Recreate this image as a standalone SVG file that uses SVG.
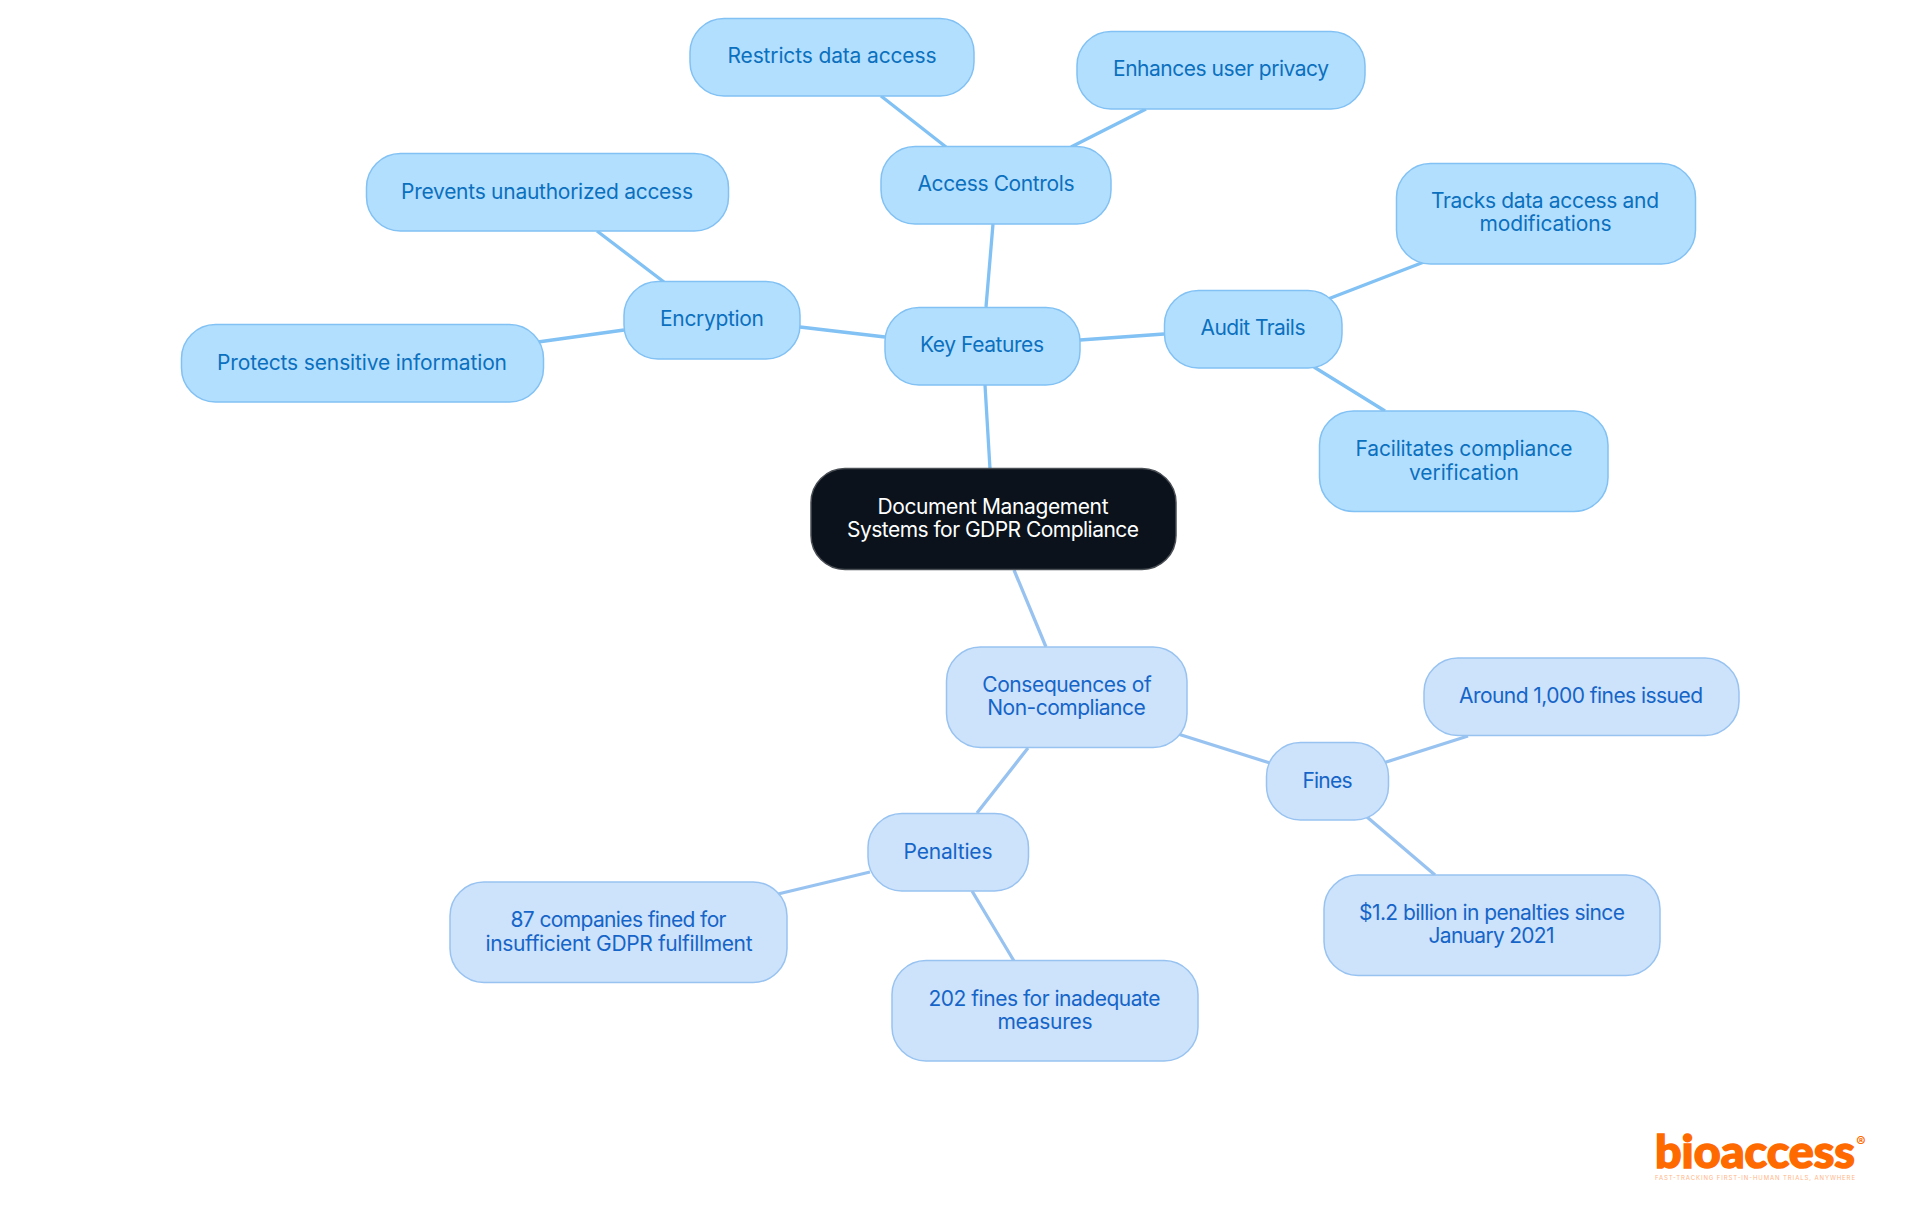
<svg xmlns="http://www.w3.org/2000/svg" width="1920" height="1215" viewBox="0 0 1920 1215">
<style>
text{font-family:"Inter","Noto Sans","Liberation Sans",sans-serif;font-size:21px;text-anchor:middle}
.a rect{fill:#b3dffe;stroke:#81c1f4;stroke-width:1.5}
.a text{fill:#0b70be}
.b rect{fill:#cde2fb;stroke:#98c3f1;stroke-width:1.5}
.b text{fill:#1565c8}
.r rect{fill:#0b121b;stroke:#4a4f55;stroke-width:1.5}
.r text{fill:#fff}
#connectors path{fill:none;stroke-width:3.3}
.ca{stroke:#81c1f4}
.cb{stroke:#98c3f1}
#logo text{fill:#ff6a00}
</style>
<rect width="1920" height="1215" fill="#fff"/>
<g id="connectors">
<path class="ca" d="M990 469L985 385M986 307L993 224M885 337L800 327M1080 340L1164 334M946 147L881 96M1071 147L1146 109M664 282L597 231M624 330L538 342M1328 299L1424 262M1314 367L1385 411"/>
<path class="cb" d="M1014 570L1046 647M1178 734L1270 763M1028 748L977 813M1383 763L1468 736M1367 817L1435 875M870 872L778 894M972 891L1014 961"/>
</g>
<g id="root" class="r"><rect x="811" y="468.500" width="365" height="101" rx="34"/><text x="993" y="514" textLength="231" lengthAdjust="spacing">Document Management</text><text x="993" y="537" textLength="292" lengthAdjust="spacing">Systems for GDPR Compliance</text></g>
<g id="key-features" class="a"><rect x="885" y="307.500" width="195" height="77.500" rx="34"/><text x="982" y="352" textLength="124" lengthAdjust="spacing">Key Features</text></g>
<g id="access-controls" class="a"><rect x="881" y="146.500" width="230" height="77.500" rx="34"/><text x="996" y="191" textLength="157" lengthAdjust="spacing">Access Controls</text></g>
<g id="restricts" class="a"><rect x="690" y="18.500" width="284" height="77.500" rx="34"/><text x="832" y="63" textLength="209" lengthAdjust="spacing">Restricts data access</text></g>
<g id="enhances" class="a"><rect x="1077" y="31.500" width="288" height="77.500" rx="34"/><text x="1221" y="76" textLength="216" lengthAdjust="spacing">Enhances user privacy</text></g>
<g id="encryption" class="a"><rect x="624" y="281.500" width="176" height="77.500" rx="34"/><text x="712" y="326" textLength="104" lengthAdjust="spacing">Encryption</text></g>
<g id="prevents" class="a"><rect x="366.500" y="153.500" width="362" height="77.500" rx="34"/><text x="547" y="199" textLength="292" lengthAdjust="spacing">Prevents unauthorized access</text></g>
<g id="protects" class="a"><rect x="181.500" y="324.500" width="362" height="77.500" rx="34"/><text x="362" y="370" textLength="290" lengthAdjust="spacing">Protects sensitive information</text></g>
<g id="audit-trails" class="a"><rect x="1164.500" y="290.500" width="177.500" height="77.500" rx="34"/><text x="1253" y="335" textLength="105" lengthAdjust="spacing">Audit Trails</text></g>
<g id="tracks" class="a"><rect x="1396.500" y="163.500" width="299" height="100.500" rx="34"/><text x="1545" y="208" textLength="228" lengthAdjust="spacing">Tracks data access and</text><text x="1545.500" y="231" textLength="132" lengthAdjust="spacing">modifications</text></g>
<g id="facilitates" class="a"><rect x="1319.500" y="411" width="288.500" height="100.500" rx="34"/><text x="1464" y="456" textLength="217" lengthAdjust="spacing">Facilitates compliance</text><text x="1464" y="480" textLength="110" lengthAdjust="spacing">verification</text></g>
<g id="consequences" class="b"><rect x="946.500" y="647" width="240.500" height="100.500" rx="34"/><text x="1067" y="692" textLength="169.500" lengthAdjust="spacing">Consequences of</text><text x="1066.500" y="715" textLength="158.500" lengthAdjust="spacing">Non-compliance</text></g>
<g id="fines" class="b"><rect x="1266.500" y="742.500" width="122" height="77.500" rx="34"/><text x="1327.500" y="788" textLength="50" lengthAdjust="spacing">Fines</text></g>
<g id="around" class="b"><rect x="1424" y="658" width="315" height="77.500" rx="34"/><text x="1581" y="703" textLength="244" lengthAdjust="spacing">Around 1,000 fines issued</text></g>
<g id="billion" class="b"><rect x="1324" y="875" width="336" height="100.500" rx="34"/><text x="1492" y="920" textLength="266" lengthAdjust="spacing">$1.2 billion in penalties since</text><text x="1491.500" y="943" textLength="126" lengthAdjust="spacing">January 2021</text></g>
<g id="penalties" class="b"><rect x="868" y="813.500" width="160.500" height="77.500" rx="34"/><text x="948" y="859" textLength="89" lengthAdjust="spacing">Penalties</text></g>
<g id="companies" class="b"><rect x="450" y="882" width="337" height="100.500" rx="34"/><text x="618.500" y="927" textLength="216" lengthAdjust="spacing">87 companies fined for</text><text x="619" y="951" textLength="267" lengthAdjust="spacing">insufficient GDPR fulfillment</text></g>
<g id="inadequate" class="b"><rect x="892" y="960.500" width="306" height="100.500" rx="34"/><text x="1044.500" y="1006" textLength="232" lengthAdjust="spacing">202 fines for inadequate</text><text x="1045" y="1029" textLength="95" lengthAdjust="spacing">measures</text></g>
<g id="logo"><text x="1755" y="1168" style="font-family:Lato,sans-serif;font-size:46px;font-weight:900;stroke:#ff6a00;stroke-width:1.5" textLength="200" lengthAdjust="spacingAndGlyphs">bioaccess</text><text x="1861" y="1147" style="font-size:14px;font-weight:700">®</text><text x="1755" y="1180" style="font-size:6px;opacity:.5" textLength="200" lengthAdjust="spacing">FAST-TRACKING FIRST-IN-HUMAN TRIALS, ANYWHERE</text></g>
</svg>
